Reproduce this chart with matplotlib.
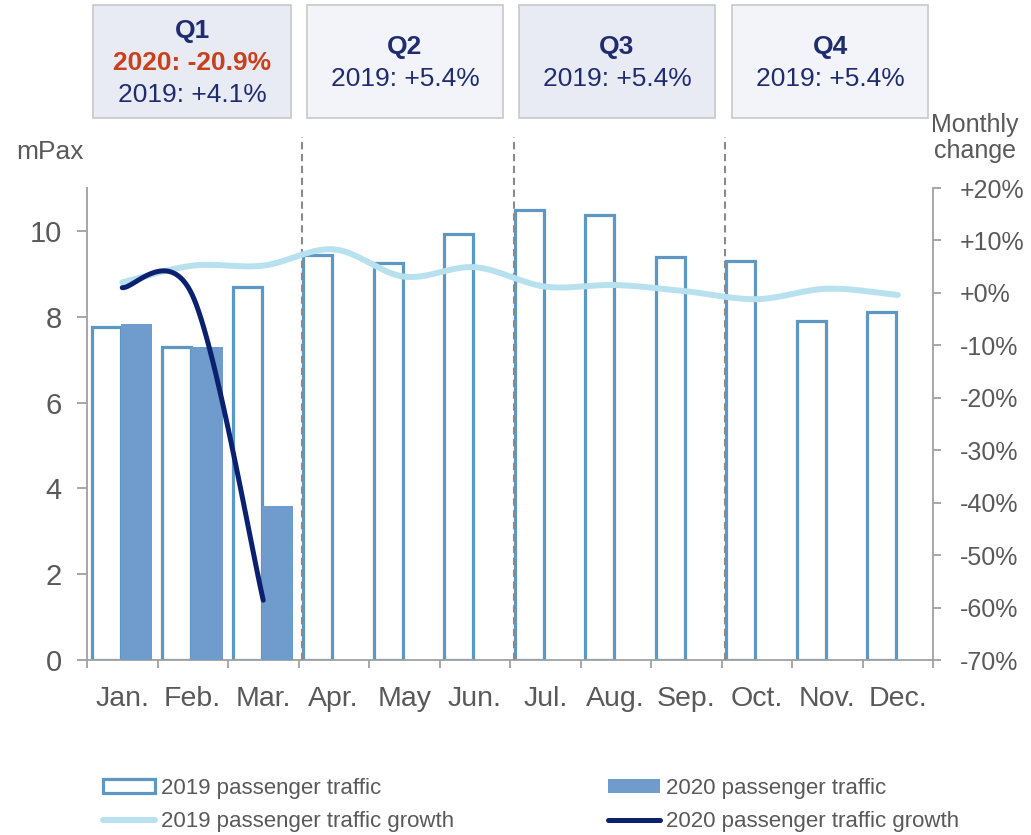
import numpy as np
import matplotlib
matplotlib.use("Agg")
import matplotlib.pyplot as plt
from matplotlib.patches import Patch, Rectangle
from matplotlib.lines import Line2D

plt.rcParams['font.family'] = ['Liberation Sans', 'DejaVu Sans']

# ---------------- data ----------------
months = ['Jan.', 'Feb.', 'Mar.', 'Apr.', 'May', 'Jun.', 'Jul.', 'Aug.', 'Sep.', 'Oct.', 'Nov.', 'Dec.']
traffic_2019 = [7.75, 7.30, 8.70, 9.45, 9.25, 9.93, 10.48, 10.38, 9.40, 9.30, 7.90, 8.10]
traffic_2020 = [7.82, 7.30, 3.60]
growth_2019 = [2.0, 5.2, 5.2, 8.3, 3.1, 4.9, 1.2, 1.5, 0.3, -1.2, 0.8, -0.4]
growth_2020 = [1.0, -0.6, -58.6]
left_ticks = [0, 2, 4, 6, 8, 10]
right_ticks = [20, 10, 0, -10, -20, -30, -40, -50, -60, -70]
right_labels = ['+20%', '+10%', '+0%', '-10%', '-20%', '-30%', '-40%', '-50%', '-60%', '-70%']
quarter_titles = ['Q1', 'Q2', 'Q3', 'Q4']
quarter_2020 = ['2020: -20.9%', None, None, None]
quarter_2019 = ['2019: +4.1%', '2019: +5.4%', '2019: +5.4%', '2019: +5.4%']
legend_labels = ['2019 passenger traffic', '2020 passenger traffic',
                 '2019 passenger traffic growth', '2020 passenger traffic growth']

# ---------------- style ----------------
GRAY_TXT = '#595959'
AX_GRAY = '#a0a0a0'
BAR_EDGE = '#5f97c4'
BAR_FILL = '#6f9bcd'
LIGHT = '#b7e1ef'
DARK = '#0b2170'
NAVY = '#1f2d6e'
ORANGE = '#c9401c'

W, H = 1031, 835
fig = plt.figure(figsize=(W / 100, H / 100), dpi=100)

def fx(px):
    return px / W

def fy(py):
    return 1 - py / H

ax = fig.add_axes([fx(87), fy(660), fx(933) - fx(87), fy(188) - fy(660)])
ax2 = ax.twinx()


def excel_smooth(xs, ys, n=60):
    pts = np.column_stack([xs, ys]).astype(float)
    m = len(pts)
    out = [pts[0]]
    for i in range(m - 1):
        p0 = pts[i - 1] if i > 0 else pts[i]
        p1 = pts[i]
        p2 = pts[i + 1]
        p3 = pts[i + 2] if i + 2 < m else pts[i + 1]
        c1 = p1 + (p2 - p0) / 6.0
        c2 = p2 - (p3 - p1) / 6.0
        t = np.linspace(0, 1, n)[1:, None]
        seg = ((1 - t) ** 3) * p1 + 3 * ((1 - t) ** 2) * t * c1 + 3 * (1 - t) * t ** 2 * c2 + t ** 3 * p2
        out.extend(seg)
    out = np.array(out)
    return out[:, 0], out[:, 1]


x = np.arange(len(months))
x20 = np.arange(len(traffic_2020))

# bars
ax.bar(x - 0.228, traffic_2019, width=0.41, facecolor='white', edgecolor=BAR_EDGE,
       linewidth=2.3, zorder=2)
ax.bar(x20 + 0.203, traffic_2020, width=0.45, facecolor=BAR_FILL, edgecolor='none',
       linewidth=0, zorder=3)

# dashed quarter separators
for q in [2.55, 5.55, 8.55]:
    ax.plot([q, q], [0, 12.2], color='#8a8a8a', lw=1.5, linestyle=(0, (3.5, 2.2)),
            clip_on=False, zorder=4)

ax.set_xlim(-0.5, 11.5)
ax.set_ylim(0, 11)
ax2.set_ylim(-70, 20)

# growth lines
sx, sy = excel_smooth(x, growth_2019)
ax2.plot(sx, sy, color=LIGHT, lw=4.3, solid_capstyle='round', zorder=5)
sx, sy = excel_smooth(x20, growth_2020)
ax2.plot(sx, sy, color=DARK, lw=3.6, solid_capstyle='round', zorder=6)

# axes styling
for a in (ax, ax2):
    a.spines['top'].set_visible(False)
    for s in ('left', 'right', 'bottom'):
        a.spines[s].set_color(AX_GRAY)
        a.spines[s].set_linewidth(1.3)
    a.patch.set_visible(False)
ax2.spines['left'].set_visible(False)
ax2.spines['bottom'].set_visible(False)
ax.spines['right'].set_visible(False)

ax.set_yticks(left_ticks)
ax.set_yticklabels([str(v) for v in left_ticks])
ax.tick_params(axis='y', direction='out', length=7, width=1.3, color=AX_GRAY,
               labelsize=21, labelcolor=GRAY_TXT, pad=11)
ax2.set_yticks(right_ticks)
ax2.set_yticklabels(right_labels)
ax2.tick_params(axis='y', direction='out', length=6, width=1.3, color=AX_GRAY,
                labelsize=18, labelcolor=GRAY_TXT, pad=13)

ax.set_xticks(x)
ax.set_xticklabels(months)
ax.set_xticks(np.arange(-0.5, 12, 1), minor=True)
ax.tick_params(axis='x', which='major', length=0, labelsize=20.5, labelcolor=GRAY_TXT, pad=19)
ax.tick_params(axis='x', which='minor', direction='out', length=6, width=1.3, color=AX_GRAY)

# axis titles
fig.text(fx(50), fy(152), 'mPax', ha='center', va='center', fontsize=19, color=GRAY_TXT)
fig.text(fx(975), fy(138), 'Monthly\nchange', ha='center', va='center', fontsize=18,
         color=GRAY_TXT, linespacing=1.15)

# quarter boxes
boxes = [(93, 291), (307, 503), (519, 715), (732, 928)]
fills = ['#e8eaf4', '#f3f4f9', '#e8eaf4', '#f3f4f9']
for (x0, x1), fc, t, l20, l19 in zip(boxes, fills, quarter_titles, quarter_2020, quarter_2019):
    fig.patches.append(Rectangle((fx(x0), fy(118)), fx(x1) - fx(x0), fy(5) - fy(118),
                                 transform=fig.transFigure, facecolor=fc,
                                 edgecolor='#c8c8c8', linewidth=1.2))
    cx = fx((x0 + x1) / 2)
    if l20:
        fig.text(cx, fy(31), t, ha='center', va='center', fontsize=19, fontweight='bold', color=NAVY)
        fig.text(cx, fy(63), l20, ha='center', va='center', fontsize=19, fontweight='bold', color=ORANGE)
        fig.text(cx, fy(95), l19, ha='center', va='center', fontsize=19, color=NAVY)
    else:
        fig.text(cx, fy(47), t, ha='center', va='center', fontsize=19, fontweight='bold', color=NAVY)
        fig.text(cx, fy(79), l19, ha='center', va='center', fontsize=19, color=NAVY)

# legend (two columns placed independently)
h19 = Patch(facecolor='white', edgecolor=BAR_EDGE, linewidth=2.3)
h20 = Patch(facecolor=BAR_FILL, edgecolor='none')
g19 = Line2D([], [], color=LIGHT, lw=4.3, solid_capstyle='round')
g20 = Line2D([], [], color=DARK, lw=3.6, solid_capstyle='round')
common = dict(loc='upper left', frameon=False, fontsize=16, labelcolor=GRAY_TXT,
              handlelength=2.35, handleheight=0.55, handletextpad=0.25,
              labelspacing=0.55, borderpad=0, borderaxespad=0)
fig.legend([h19, g19], [legend_labels[0], legend_labels[2]],
           bbox_to_anchor=(fx(103), fy(778)), **common)
fig.legend([h20, g20], [legend_labels[1], legend_labels[3]],
           bbox_to_anchor=(fx(608), fy(778)), **common)

fig.savefig('out.png', dpi=100)
